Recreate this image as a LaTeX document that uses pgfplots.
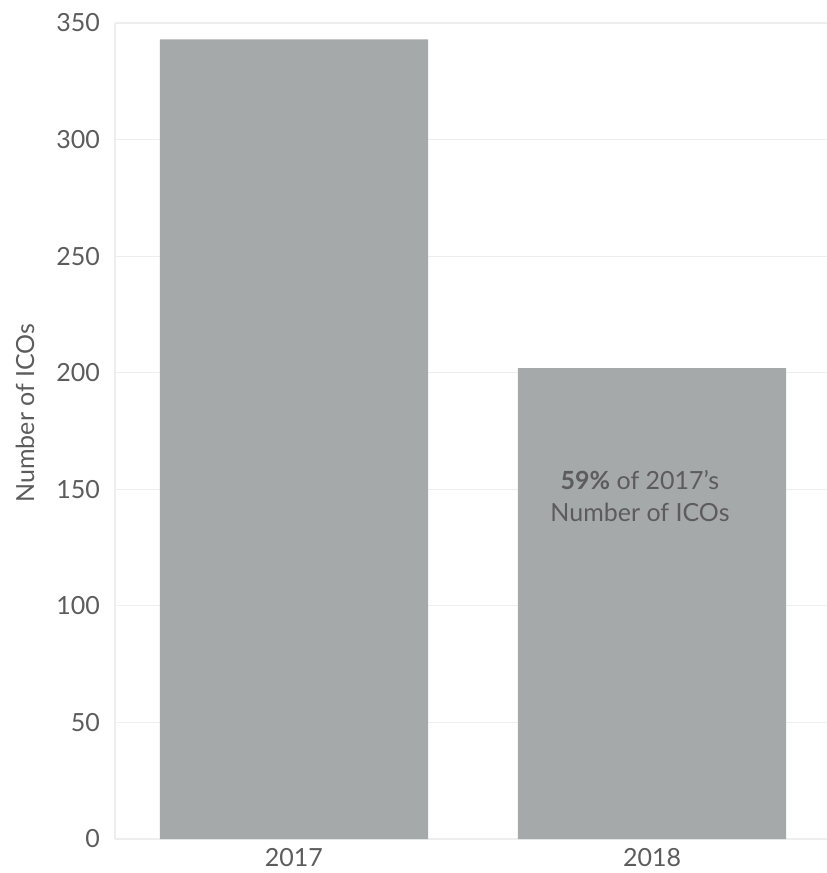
\documentclass[border=0pt]{standalone}
\usepackage{fontspec}
\setmainfont{Lato}
\usepackage{pgfplots}
\pgfplotsset{compat=1.18}
\definecolor{barcol}{RGB}{166,169,170}
\definecolor{txtcol}{RGB}{92,92,92}
\definecolor{gridcol}{RGB}{238,238,238}
\begin{document}
\begin{tikzpicture}
\useasboundingbox (-57.5pt,-17pt) rectangle (355.5pt,419.5pt);
\begin{axis}[
  at={(0,0)}, anchor=south west,
  scale only axis,
  width=358pt, height=408pt,
  xmin=-0.5, xmax=1.5,
  ymin=0, ymax=350,
  ytick={0,50,...,350},
  xtick={0,1},
  xticklabels={2017,2018},
  ymajorgrids,
  grid style={draw=gridcol, line width=0.6pt},
  axis lines*=left,
  axis line style={draw=gridcol, line width=0.6pt},
  tick style={draw=none},
  major tick length=0pt,
  /pgf/number format/assume math mode=true,
  ticklabel style={font=\fontsize{12.5}{14}\selectfont, text=txtcol},
  yticklabel style={xshift=-4pt},
  xticklabel style={yshift=-1pt},
  ylabel={Number of ICOs},
  every axis y label/.style={at={(axis description cs:0,0.522)}, xshift=-45pt, rotate=90, anchor=center, font=\fontsize{12.5}{14}\selectfont, text=txtcol},
  clip=false,
]
\addplot[ybar, bar width=134pt, fill=barcol, draw=none] coordinates {(0,343) (1,202)};
\node[align=center, font=\fontsize{12.5}{16}\selectfont, text=txtcol] at (axis cs:1,147) [xshift=-6pt] {\textbf{59\%} of 2017's\\Number of ICOs};
\end{axis}
\end{tikzpicture}
\end{document}
